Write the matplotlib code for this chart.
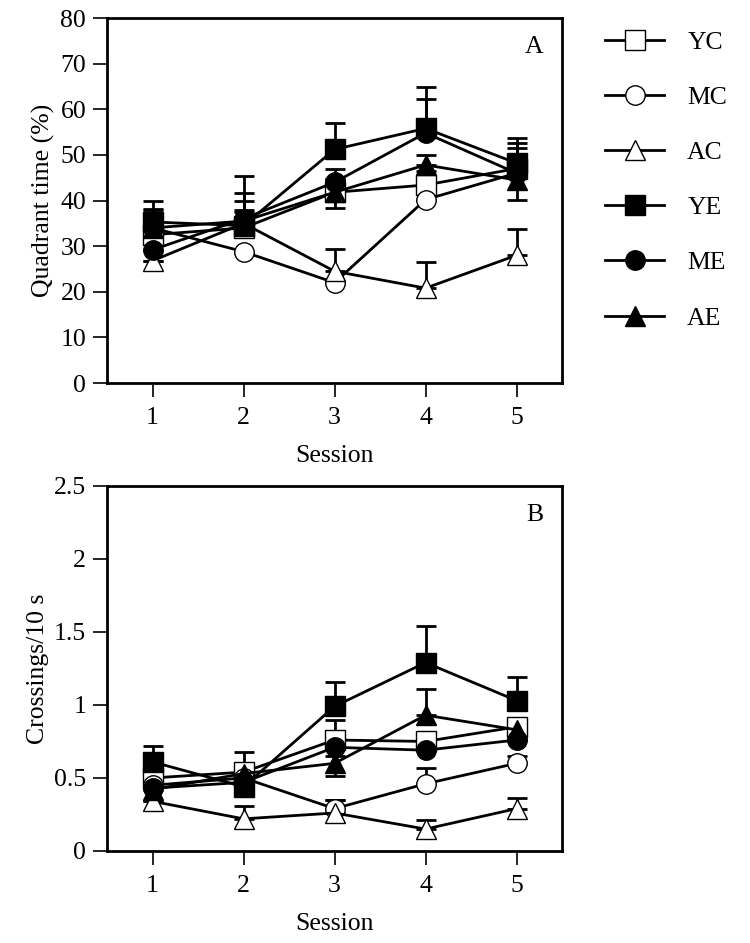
import numpy as np
import matplotlib
matplotlib.use("Agg")
import matplotlib.pyplot as plt

plt.rcParams['font.family'] = ['Liberation Serif', 'DejaVu Serif']

sessions = [1, 2, 3, 4, 5]
groups = ["YC", "MC", "AC", "YE", "ME", "AE"]
markers = {"YC": "s", "MC": "o", "AC": "^", "YE": "s", "ME": "o", "AE": "^"}
filled = {"YC": False, "MC": False, "AC": False, "YE": True, "ME": True, "AE": True}

# --- Panel A: quadrant time (%) ---
quad_mean = {
    "YC": [32.5, 34.0, 41.8, 43.4, 47.0],
    "MC": [34.0, 28.8, 22.0, 40.2, 46.0],
    "AC": [26.8, 35.0, 24.5, 20.8, 28.0],
    "YE": [35.3, 34.5, 51.2, 55.8, 48.2],
    "ME": [29.2, 36.0, 44.0, 54.8, 46.0],
    "AE": [34.0, 35.5, 41.8, 47.8, 44.5],
}
quad_up = {
    "YC": [3.0, 3.5, 3.0, 3.0, 4.5],
    "MC": [3.0, 0.0, 0.0, 0.0, 3.0],
    "AC": [0.0, 3.0, 4.8, 5.8, 5.8],
    "YE": [4.5, 10.8, 5.9, 9.0, 5.6],
    "ME": [9.0, 5.6, 3.0, 7.4, 6.7],
    "AE": [4.0, 4.5, 3.0, 2.2, 3.0],
}
quad_lo = {
    "YC": [0.0, 0.0, 3.5, 0.0, 0.0],
    "MC": [0.0, 0.4, 0.0, 0.0, 0.0],
    "AC": [0.0, 0.0, 0.0, 0.0, 0.0],
    "YE": [0.0, 0.0, 0.0, 0.0, 0.0],
    "ME": [0.0, 0.0, 0.0, 0.0, 0.0],
    "AE": [0.0, 0.0, 0.0, 0.0, 4.4],
}

# --- Panel B: crossings / 10 s ---
cross_mean = {
    "YC": [0.50, 0.54, 0.76, 0.75, 0.85],
    "MC": [0.45, 0.50, 0.29, 0.46, 0.60],
    "AC": [0.34, 0.22, 0.26, 0.15, 0.29],
    "YE": [0.61, 0.44, 0.99, 1.29, 1.03],
    "ME": [0.43, 0.47, 0.71, 0.69, 0.76],
    "AE": [0.42, 0.53, 0.60, 0.93, 0.83],
}
cross_up = {
    "YC": [0.05, 0.05, 0.14, 0.06, 0.05],
    "MC": [0.05, 0.05, 0.06, 0.11, 0.05],
    "AC": [0.00, 0.09, 0.09, 0.06, 0.07],
    "YE": [0.11, 0.24, 0.17, 0.25, 0.16],
    "ME": [0.05, 0.05, 0.05, 0.05, 0.05],
    "AE": [0.05, 0.05, 0.05, 0.18, 0.05],
}
cross_lo = {
    "YC": [0.0, 0.0, 0.0, 0.0, 0.0],
    "MC": [0.0, 0.0, 0.0, 0.0, 0.0],
    "AC": [0.0, 0.0, 0.0, 0.0, 0.0],
    "YE": [0.0, 0.0, 0.0, 0.0, 0.0],
    "ME": [0.0, 0.0, 0.0, 0.0, 0.0],
    "AE": [0.0, 0.0, 0.09, 0.0, 0.0],
}

FS = 18.5

fig = plt.figure(figsize=(7.5, 9.43), dpi=100)
axA = fig.add_axes([0.1427, 0.5938, 0.6067, 0.3871])
axB = fig.add_axes([0.1427, 0.0976, 0.6067, 0.3871])


def draw_panel(ax, means, ups, los):
    handles = []
    for g in groups:
        face = "black" if filled[g] else "white"
        ax.errorbar(sessions, means[g], yerr=[los[g], ups[g]], fmt="none",
                    ecolor="black", elinewidth=2, capsize=7, capthick=2, zorder=2)
        h, = ax.plot(sessions, means[g], color="black", lw=2, marker=markers[g],
                     markersize=14, markerfacecolor=face, markeredgecolor="black",
                     markeredgewidth=1.0, zorder=3, label=g)
        handles.append(h)
    ax.set_xlim(0.5, 5.5)
    ax.set_xticks(sessions)
    for s in ax.spines.values():
        s.set_linewidth(2)
    ax.tick_params(direction="out", length=10, width=1.2, labelsize=FS, pad=5)
    ax.tick_params(axis="x", pad=7)
    ax.set_xlabel("Session", fontsize=FS, labelpad=12)
    return handles


handles = draw_panel(axA, quad_mean, quad_up, quad_lo)
axA.set_ylim(0, 80)
axA.set_yticks(np.arange(0, 81, 10))
axA.set_ylabel("Quadrant time (%)", fontsize=FS, labelpad=4)
axA.text(0.96, 0.95, "A", transform=axA.transAxes, ha="right", va="top", fontsize=FS)

draw_panel(axB, cross_mean, cross_up, cross_lo)
axB.set_ylim(0, 2.5)
axB.set_yticks([0, 0.5, 1, 1.5, 2, 2.5])
axB.set_yticklabels(["0", "0.5", "1", "1.5", "2", "2.5"])
axB.set_ylabel("Crossings/10 s", fontsize=FS, labelpad=4)
axB.text(0.96, 0.95, "B", transform=axB.transAxes, ha="right", va="top", fontsize=FS)

fig.legend(handles=handles, loc="upper left", bbox_to_anchor=(605 / 750, 1 - 31 / 943),
           frameon=False, fontsize=FS, handlelength=2.3, handletextpad=0.9,
           labelspacing=1.25, borderpad=0, borderaxespad=0)

fig.savefig("out.png", dpi=100)
